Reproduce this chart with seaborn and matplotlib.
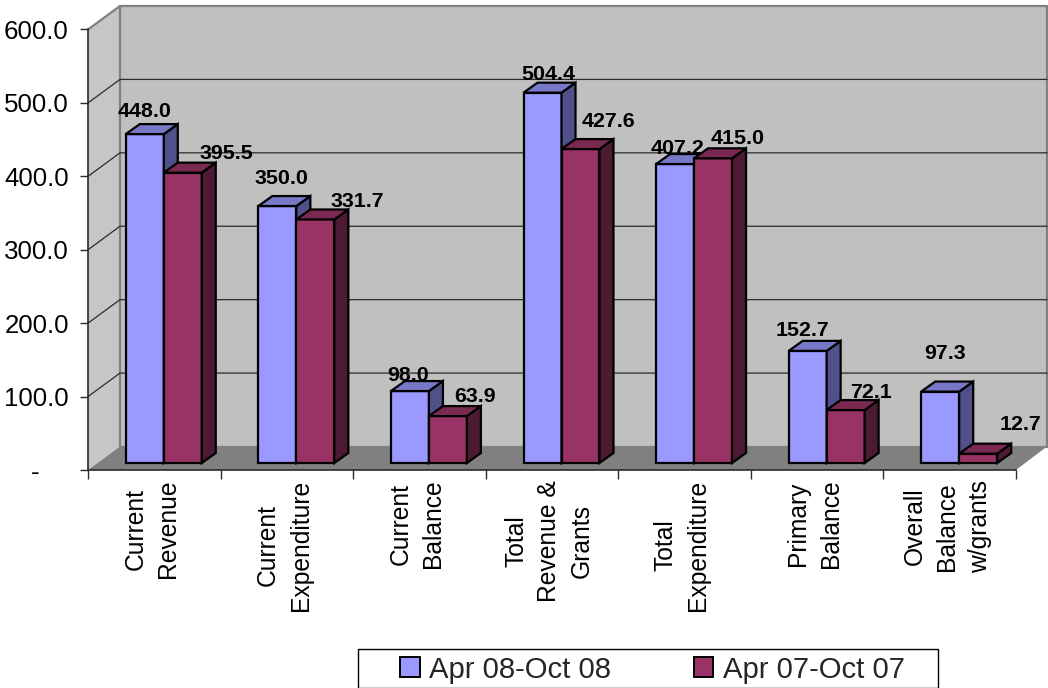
import numpy as np
import pandas as pd
import seaborn as sns
import matplotlib
matplotlib.use("Agg")
import matplotlib.pyplot as plt
from matplotlib.lines import Line2D
from matplotlib.patches import Polygon, Rectangle
from matplotlib.transforms import Affine2D, IdentityTransform

# Fiscal operations, period totals
categories = [
    "Current\nRevenue", "Current\nExpenditure", "Current\nBalance",
    "Total\nRevenue &\nGrants", "Total\nExpenditure", "Primary\nBalance",
    "Overall\nBalance\nw/grants",
]
series_names = ["Apr 08-Oct 08", "Apr 07-Oct 07"]
values_2008 = [448.0, 350.0, 98.0, 504.4, 407.2, 152.7, 97.3]
values_2007 = [395.5, 331.7, 63.9, 427.6, 415.0, 72.1, 12.7]
y_ticks = [0, 100, 200, 300, 400, 500, 600]
y_tick_labels = ["-    ", "100.0", "200.0", "300.0", "400.0", "500.0", "600.0"]

# Label nudges in pixels from the top centre of each bar
label_nudge_2008 = [(0, 23), (4, 28), (-2, 16), (6, 18), (2, 16), (-5, 20), (5, 38)]
label_nudge_2007 = [(44, 19), (42, 18), (27, 20), (28, 28), (25, 20), (25, 18), (42, 29)]

W, H = 1048, 688
FRONT = ["#9999FF", "#993366"]
TOP = ["#7878C8", "#7A2950"]
SIDE = ["#50508A", "#4D1A33"]
BAR_DEPTH = (14, 10)      # oblique offset of a bar's back face
WALL_DEPTH = (32, 23.5)   # oblique offset of the back wall
BAR_SHIFT = (9.5, 7)      # bars stand inside the floor, off the axis line

sns.set_theme(style="white")
plt.rcParams["font.family"] = ["Liberation Sans", "DejaVu Sans"]

fig = plt.figure(figsize=(W / 100, H / 100), dpi=100, facecolor="white")
ax = fig.add_axes([88 / W, 1 - 470 / H, (1016 - 88) / W, (470 - 29.5) / H])
ax.patch.set_alpha(0)

df = pd.DataFrame({
    "category": categories * 2,
    "value": values_2008 + values_2007,
    "period": [series_names[0]] * 7 + [series_names[1]] * 7,
})
sns.barplot(
    data=df, x="category", y="value", hue="period", palette=FRONT, saturation=1,
    width=0.573, gap=0, dodge=True, edgecolor="black", linewidth=1.6, ax=ax,
    zorder=5,
)
ax.set_xlim(-0.5, 6.5)
ax.set_ylim(0, 600)
ax.set_xlabel("")
ax.set_ylabel("")

# Chart frame: side wall, back wall and floor, in display pixels
disp = IdentityTransform()
def flip(x, y):
    return (x, H - y)

x0, x1 = 88, 1016
y_zero, y_top = 470, 29.5
dx, dy = WALL_DEPTH
ax.add_patch(Polygon([flip(x0, y_zero), flip(x0, y_top), flip(x0 + dx, y_top - dy),
                      flip(x0 + dx, y_zero - dy)], closed=True, transform=disp,
                     fc="#C6C6C6", ec="none", zorder=0, clip_on=False))
ax.add_patch(Polygon([flip(x0 + dx, y_zero - dy), flip(x0 + dx, y_top - dy),
                      flip(x1 + dx - 1, y_top - dy), flip(x1 + dx - 1, y_zero - dy)],
                     closed=True, transform=disp, fc="#C0C0C0", ec="#808080", lw=1.6,
                     zorder=0.5, clip_on=False))
ax.add_patch(Polygon([flip(x0, y_zero), flip(x0 + dx, y_zero - dy),
                      flip(x1 + dx - 1, y_zero - dy), flip(x1, y_zero)], closed=True,
                     transform=disp, fc="#808080", ec="none", zorder=1, clip_on=False))
ax.add_line(Line2D([x0, x0 + dx], [H - y_top, H - y_top + dy], transform=disp,
                   color="#808080", lw=1.6, zorder=1, clip_on=False))

# Gridlines run up the side wall and across the back wall
for v in y_ticks[1:-1]:
    _, yd = ax.transData.transform((0, v))
    ax.add_line(Line2D([x0, x0 + dx, x1 + dx - 1], [yd, yd + dy, yd + dy], transform=disp,
                       color="#2b2b2b", lw=0.9, zorder=1.5, clip_on=False))

# Give each bar a shifted front, a top face and a side face
shift = Affine2D().translate(*BAR_SHIFT)
containers = ax.containers
ddx, ddy = BAR_DEPTH
for s, container in enumerate(containers):
    nudges = label_nudge_2008 if s == 0 else label_nudge_2007
    for bar, val, (nx, ny) in zip(container.patches, [values_2008, values_2007][s], nudges):
        bar.set_transform(ax.transData + shift)
        bar.set_clip_on(False)
        bar.set_zorder(5 + 2 * s)
        (xa, yb), (xb, yt) = ax.transData.transform(
            [(bar.get_x(), bar.get_y()), (bar.get_x() + bar.get_width(), bar.get_y() + bar.get_height())]
        )
        xa, xb = xa + BAR_SHIFT[0], xb + BAR_SHIFT[0]
        yb, yt = yb + BAR_SHIFT[1], yt + BAR_SHIFT[1]
        ax.add_patch(Polygon([(xb, yb), (xb + ddx, yb + ddy), (xb + ddx, yt + ddy), (xb, yt)],
                             closed=True, transform=disp, fc=SIDE[s], ec="black", lw=1.6,
                             joinstyle="miter", zorder=5 + 2 * s, clip_on=False))
        ax.add_patch(Polygon([(xa, yt), (xa + ddx, yt + ddy), (xb + ddx, yt + ddy), (xb, yt)],
                             closed=True, transform=disp, fc=TOP[s], ec="black", lw=1.6,
                             joinstyle="miter", zorder=5 + 2 * s, clip_on=False))
        ax.text((xa + xb) / 2 + nx, yt + ny, f"{val:.1f}", transform=disp, ha="center",
                va="center", fontsize=15.4, fontweight="bold", color="black", zorder=12,
                clip_on=False)

# Axes
sns.despine(ax=ax, top=True, right=True)
for name in ("left", "bottom"):
    ax.spines[name].set_color("#2b2b2b")
    ax.spines[name].set_linewidth(1.2)
    ax.spines[name].set_zorder(2)
ax.set_yticks(y_ticks, labels=y_tick_labels)
ax.set_xticks(np.arange(8) - 0.5, labels=[""] * 8)
ax.set_xticks(np.arange(7), labels=categories, minor=True)
ax.tick_params(axis="y", which="major", left=True, length=5.8, width=1, color="#2b2b2b",
               labelsize=18.6, pad=8, labelcolor="black")
ax.tick_params(axis="x", which="major", bottom=True, length=6.5, width=1, color="#2b2b2b")
ax.tick_params(axis="x", which="minor", bottom=False, length=0, labelsize=17.7, pad=7,
               labelcolor="black")
for lab in ax.get_xticklabels(minor=True):
    lab.set_rotation(90)
    lab.set_ha("center")
    lab.set_va("top")
    lab.set_multialignment("center")
    lab.set_linespacing(1.46)
    lab.set_transform(lab.get_transform() + Affine2D().translate(-2.5, 0))

# Legend box, with the entries set inside it
fig.add_artist(Rectangle((358 / W, 1 - 687.5 / H), (938 - 358) / W, (687.5 - 649) / H,
                         transform=fig.transFigure, fc="white", ec="black", lw=1.0,
                         zorder=-1))
handles, labels = ax.get_legend_handles_labels()
leg = ax.legend(
    handles, labels, ncol=2, loc="center", bbox_to_anchor=(652.5 / W, 1 - 669.5 / H),
    bbox_transform=fig.transFigure, frameon=False, fontsize=21.1, handlelength=0.66,
    handleheight=0.66, handletextpad=0.34, columnspacing=2.8, borderaxespad=0,
    borderpad=0, title=None,
)
for h in leg.legend_handles:
    h.set_edgecolor("black")
    h.set_linewidth(1.4)

fig.savefig("out.png", dpi=100, facecolor="white")
